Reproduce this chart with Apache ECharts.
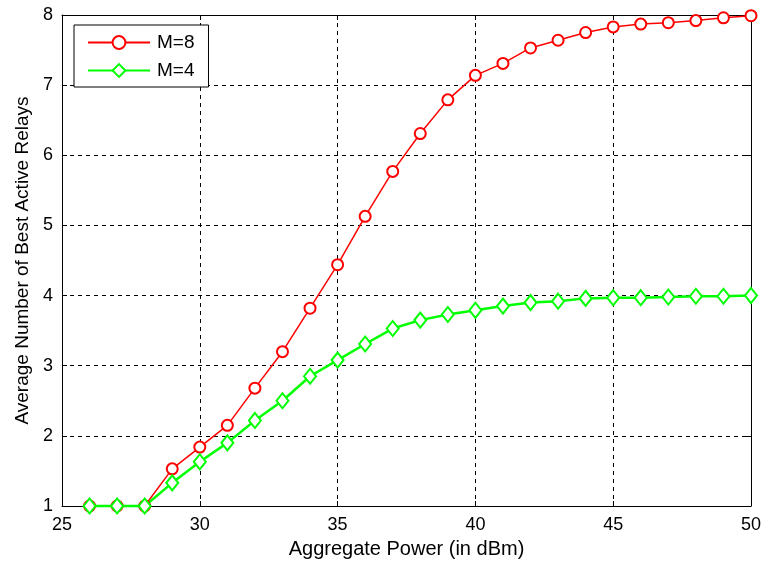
<!DOCTYPE html>
<html>
<head>
<meta charset="utf-8">
<script src="https://cdn.jsdelivr.net/npm/echarts@6/dist/echarts.min.js"></script>
<style>
  html, body { margin: 0; padding: 0; background: #fff; }
  #chart { width: 764px; height: 564px; }
</style>
</head>
<body>
<div id="chart"></div>
<script>
// aggregate power (dBm)
const power = [26, 27, 28, 29, 30, 31, 32, 33, 34, 35, 36, 37, 38, 39, 40, 41, 42, 43, 44, 45, 46, 47, 48, 49, 50];

// average number of best active relays
const relaysM8 = [1, 1, 1, 1.53, 1.84, 2.15, 2.68, 3.2, 3.82, 4.44, 5.13, 5.77, 6.31, 6.79, 7.14, 7.31, 7.53, 7.64, 7.75, 7.83, 7.87, 7.89, 7.92, 7.96, 7.99];
const relaysM4 = [1, 1, 1, 1.33, 1.63, 1.9, 2.22, 2.5, 2.85, 3.08, 3.31, 3.53, 3.65, 3.73, 3.79, 3.85, 3.9, 3.92, 3.96, 3.97, 3.97, 3.98, 3.99, 3.99, 4.0];

const seriesNames = ["M=8", "M=4"];

const font = "Liberation Sans, Arial, sans-serif";

const pairs = (ys) => power.map((x, i) => [x, ys[i]]);

const boxAxis = {
  axisLine: { show: true, lineStyle: { color: "#000", width: 1 } },
  axisTick: { show: true, inside: true, length: 5, lineStyle: { color: "#000" } },
  axisLabel: { show: false },
  splitLine: { show: false },
};

const chart = echarts.init(document.getElementById("chart"), null, { renderer: "canvas" });

chart.setOption({
  animation: false,
  backgroundColor: "#fff",
  textStyle: { fontFamily: font },
  grid: { left: 62, right: 12, top: 15, bottom: 55 },
  legend: {
    data: seriesNames,
    orient: "vertical",
    left: 74,
    top: 25,
    padding: [8, 14, 7, 13],
    itemWidth: 62,
    itemHeight: 16,
    itemGap: 9,
    backgroundColor: "#fff",
    borderColor: "#000",
    borderWidth: 1,
    textStyle: { fontFamily: font, fontSize: 19, color: "#000", padding: [0, 0, 0, 2] },
  },
  xAxis: [
    {
      type: "value",
      min: 25,
      max: 50,
      interval: 5,
      name: "Aggregate Power (in dBm)",
      nameLocation: "middle",
      nameGap: 33,
      nameTextStyle: { fontFamily: font, fontSize: 20, color: "#000" },
      axisLine: { show: true, onZero: false, lineStyle: { color: "#000", width: 1 } },
      axisTick: { show: true, inside: true, length: 5, lineStyle: { color: "#000" } },
      axisLabel: { fontFamily: font, fontSize: 18, color: "#000", margin: 10 },
      splitLine: { show: true, lineStyle: { color: "#000", type: [4, 4], width: 1 } },
    },
    Object.assign({ type: "value", min: 25, max: 50, interval: 5, position: "top" }, boxAxis),
  ],
  yAxis: [
    {
      type: "value",
      min: 1,
      max: 8,
      interval: 1,
      name: "Average Number of Best Active Relays",
      nameLocation: "middle",
      nameGap: 30,
      nameRotate: 90,
      nameTextStyle: { fontFamily: font, fontSize: 19, color: "#000" },
      axisLine: { show: true, onZero: false, lineStyle: { color: "#000", width: 1 } },
      axisTick: { show: true, inside: true, length: 5, lineStyle: { color: "#000" } },
      axisLabel: { fontFamily: font, fontSize: 18, color: "#000", margin: 9 },
      splitLine: { show: true, lineStyle: { color: "#000", type: [4, 4], width: 1 } },
    },
    Object.assign({ type: "value", min: 1, max: 8, interval: 1, position: "right" }, boxAxis),
  ],
  series: [
    {
      name: seriesNames[0],
      type: "line",
      data: pairs(relaysM8),
      symbol: "emptyCircle",
      symbolSize: 11,
      showSymbol: true,
      clip: false,
      lineStyle: { color: "#ff0000", width: 1.5 },
      itemStyle: { color: "#ff0000", borderWidth: 2 },
    },
    {
      name: seriesNames[1],
      type: "line",
      data: pairs(relaysM4),
      symbol: "emptyDiamond",
      symbolSize: [12, 15],
      showSymbol: true,
      clip: false,
      lineStyle: { color: "#00ff00", width: 2.5 },
      itemStyle: { color: "#00ff00", borderWidth: 2 },
    },
  ],
});
</script>
</body>
</html>
